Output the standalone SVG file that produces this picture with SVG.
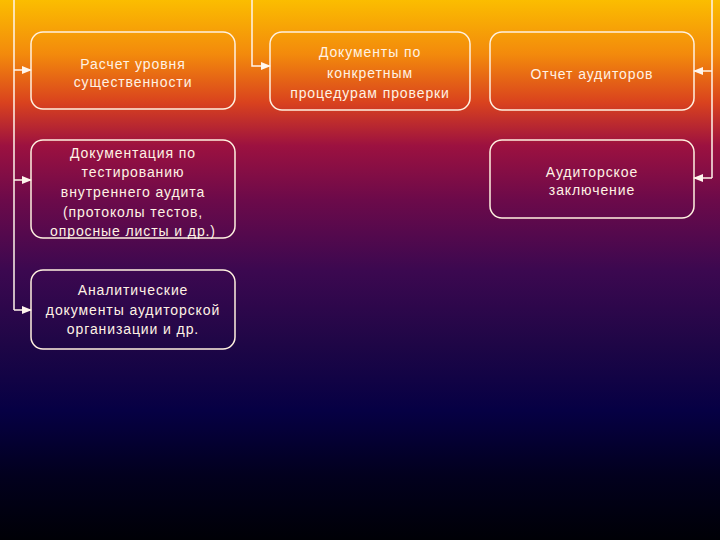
<svg xmlns="http://www.w3.org/2000/svg" width="720" height="540" viewBox="0 0 720 540">
<defs>
<linearGradient id="bg" x1="0" y1="0" x2="0" y2="1">
<stop offset="0" stop-color="#fbbd00"/>
<stop offset="0.1" stop-color="#f38a0c"/>
<stop offset="0.19" stop-color="#d9421e"/>
<stop offset="0.27" stop-color="#9c1140"/>
<stop offset="0.37" stop-color="#6c0a4a"/>
<stop offset="0.5" stop-color="#3c0850"/>
<stop offset="0.64" stop-color="#1e0646"/>
<stop offset="0.76" stop-color="#060044"/>
<stop offset="0.88" stop-color="#02001e"/>
<stop offset="1" stop-color="#000006"/>
</linearGradient>
<marker id="arr" markerWidth="10" markerHeight="10" refX="9" refY="5" orient="auto" markerUnits="userSpaceOnUse">
<path d="M0,1 L10,5 L0,9 Z" fill="#fff6ee"/>
</marker>
</defs>
<style>
.box{fill:none;stroke:#fff1e0;stroke-width:1.5}
.t{font-family:"Liberation Sans",Arial,sans-serif;font-size:14px;letter-spacing:0.9px;fill:#fff2e4;text-anchor:middle}
.c{fill:none;stroke:#fff4ea;stroke-width:1.5}
</style>
<rect width="720" height="540" fill="url(#bg)"/>
<g id="connectors">
<path class="c" d="M14,0 V310"/>
<path class="c" d="M14,70 H31" marker-end="url(#arr)"/>
<path class="c" d="M14,180 H31" marker-end="url(#arr)"/>
<path class="c" d="M14,310 H31" marker-end="url(#arr)"/>
<path class="c" d="M252,0 V66 H270" marker-end="url(#arr)"/>
<path class="c" d="M712,0 V178"/>
<path class="c" d="M712,71 H694" marker-end="url(#arr)"/>
<path class="c" d="M712,178 H694" marker-end="url(#arr)"/>
</g>
<g id="n1">
<rect class="box" x="31" y="32" width="204" height="77" rx="12"/>
<text class="t" x="133" y="69">Расчет уровня</text>
<text class="t" x="133" y="87">существенности</text>
</g>
<g id="n2">
<rect class="box" x="270" y="32" width="200" height="78" rx="12"/>
<text class="t" x="370" y="57">Документы по</text>
<text class="t" x="370" y="78">конкретным</text>
<text class="t" x="370" y="98">процедурам проверки</text>
</g>
<g id="n3">
<rect class="box" x="490" y="32" width="204" height="78" rx="12"/>
<text class="t" x="592" y="79">Отчет аудиторов</text>
</g>
<g id="n4">
<rect class="box" x="490" y="140" width="204" height="78" rx="12"/>
<text class="t" x="592" y="177">Аудиторское</text>
<text class="t" x="592" y="195">заключение</text>
</g>
<g id="n5">
<rect class="box" x="31" y="140" width="204" height="98" rx="12"/>
<text class="t" x="133" y="158">Документация по</text>
<text class="t" x="133" y="177">тестированию</text>
<text class="t" x="133" y="197">внутреннего аудита</text>
<text class="t" x="133" y="217">(протоколы тестов,</text>
<text class="t" x="133" y="236">опросные листы и др.)</text>
</g>
<g id="n6">
<rect class="box" x="31" y="270" width="204" height="79" rx="12"/>
<text class="t" x="133" y="295">Аналитические</text>
<text class="t" x="133" y="315">документы аудиторской</text>
<text class="t" x="133" y="334">организации и др.</text>
</g>
</svg>
